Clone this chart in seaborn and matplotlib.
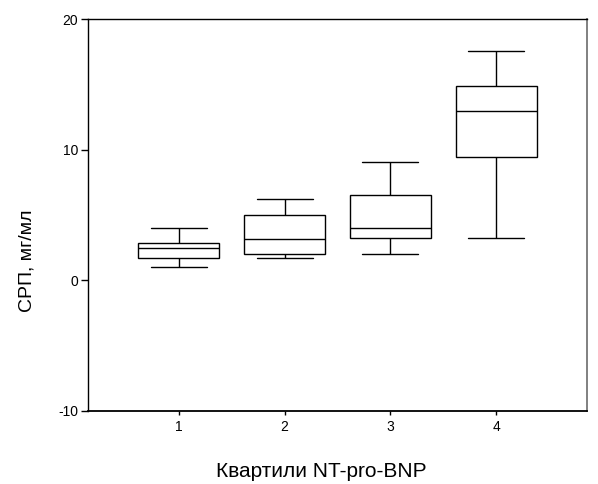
import numpy as np
import pandas as pd
import matplotlib
matplotlib.use("Agg")
import matplotlib.pyplot as plt
import seaborn as sns

# Data (five-number summaries)
categories = ["1", "2", "3", "4"]
whisker_low = [1.0, 1.75, 2.0, 3.25]
q1 = [1.75, 2.05, 3.25, 9.45]
median = [2.5, 3.2, 4.0, 12.95]
q3 = [2.85, 5.0, 6.55, 14.9]
whisker_high = [4.0, 6.25, 9.05, 17.6]
y_ticks = [-10, 0, 10, 20]

rows = []
for i, c in enumerate(categories):
    for v in (whisker_low[i], q1[i], median[i], q3[i], whisker_high[i]):
        rows.append({"Квартиль": c, "value": v})
df = pd.DataFrame(rows)

sns.set_style("white")
plt.rcParams["font.family"] = ["Liberation Sans", "DejaVu Sans"]
plt.rcParams["text.color"] = "black"

fig = plt.figure(figsize=(5.98, 4.84), dpi=100)
ax = fig.add_axes([88.3 / 598, 1 - 411 / 484, (586.7 - 88.3) / 598, (411 - 19.3) / 484])

sns.boxplot(data=df, x="Квартиль", y="value", order=categories, ax=ax,
            whis=(0, 100), width=0.765, color="white", linecolor="black",
            linewidth=1.0, fill=True, showfliers=False,
            capwidths=0.53,
            boxprops=dict(facecolor="white", edgecolor="black"),
            medianprops=dict(color="black", linewidth=1.0),
            whiskerprops=dict(color="black", linewidth=1.0),
            capprops=dict(color="black", linewidth=1.0))

ax.set_xlim(-0.854, 3.854)
ax.set_ylim(-10, 20)
ax.set_yticks(y_ticks)
ax.set_yticklabels([str(t) for t in y_ticks])
ax.set_xlabel("")
ax.set_ylabel("")

ax.tick_params(axis="y", which="both", left=True, direction="out", length=5,
               width=1, labelsize=10, pad=2.4, colors="black")
ax.tick_params(axis="x", which="both", bottom=True, direction="out", length=3,
               width=1, labelsize=10, pad=3.2, colors="black")

for side in ["left", "top", "bottom"]:
    ax.spines[side].set_color("black")
    ax.spines[side].set_linewidth(1.0)
ax.spines["bottom"].set_linewidth(1.3)
ax.spines["right"].set_color("#808080")
ax.spines["right"].set_linewidth(1.4)

fig.text(27 / 598, 1 - 261 / 484, "СРП, мг/мл", ha="center", va="center",
         rotation=90, fontsize=14, color="black")
fig.text(321.5 / 598, 1 - 477 / 484, "Квартили NT-pro-BNP", ha="center", va="baseline",
         fontsize=15, color="black")

fig.savefig("out.png", dpi=100, facecolor="white")
